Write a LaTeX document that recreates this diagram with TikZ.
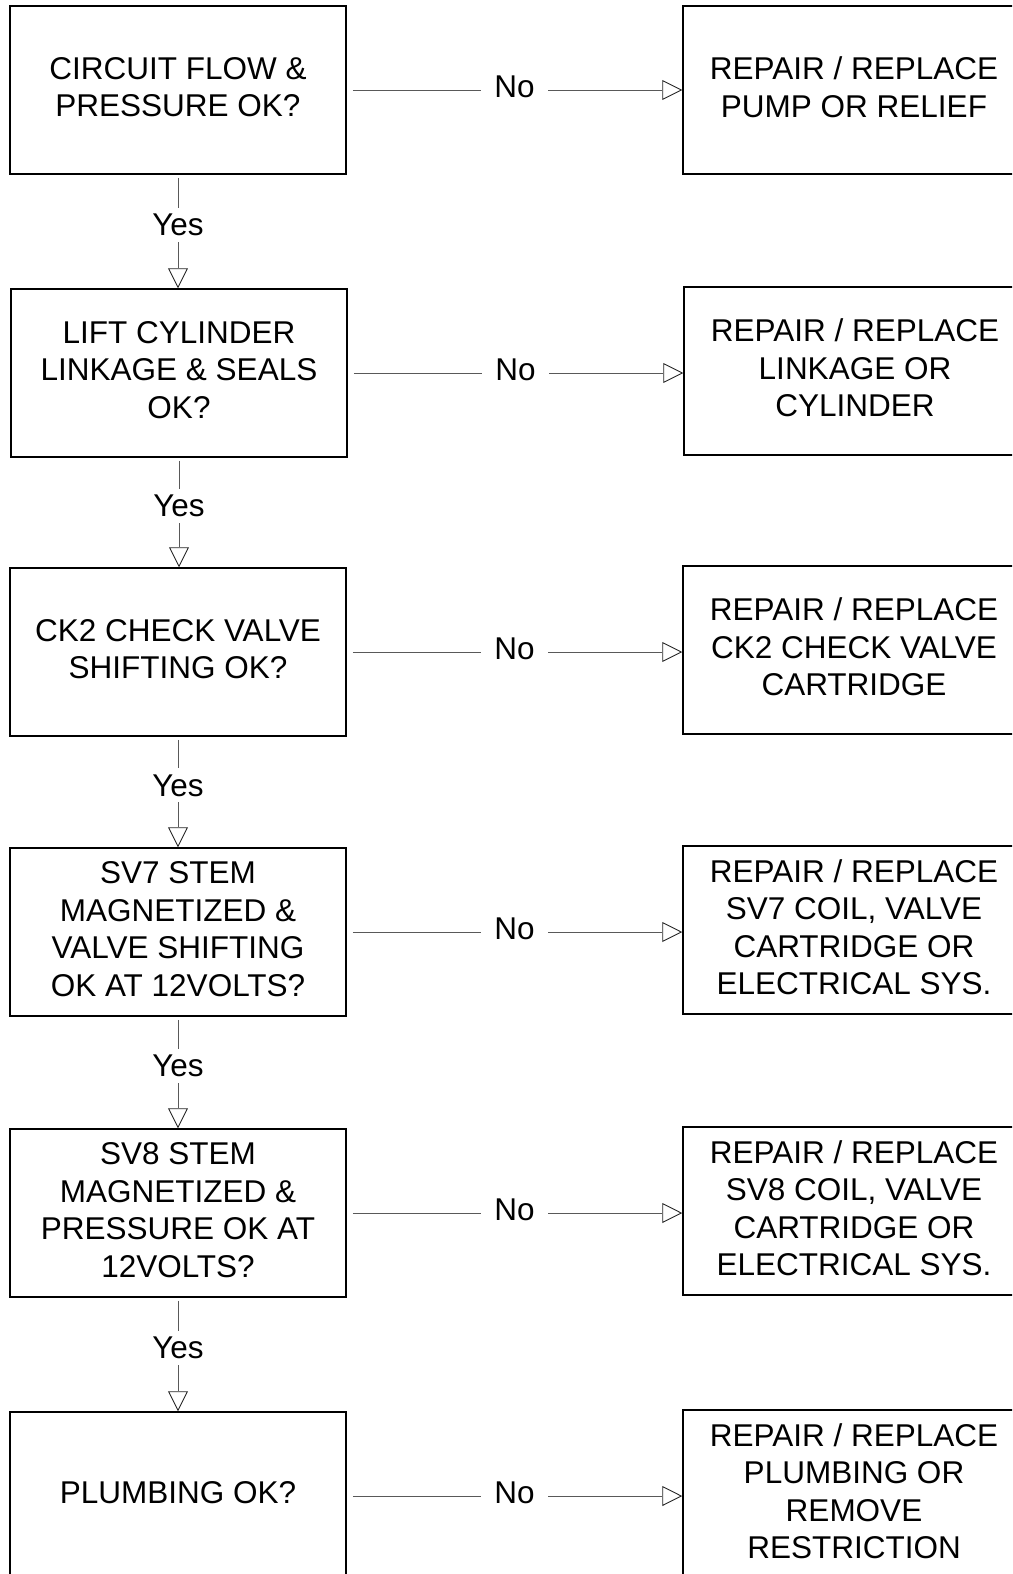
\documentclass[tikz,border=0pt]{standalone}
\usepackage{fontspec}
\setmainfont{Liberation Sans}
\usetikzlibrary{arrows.meta}
\begin{document}
\begin{tikzpicture}[x=1pt,y=-1pt,
  txt/.style={font=\fontsize{31.5}{37.5}\selectfont},
  box/.style={draw=black, line width=1.5pt, rectangle, inner sep=0pt,
    label={[txt, align=center, yshift=3pt]center:{#1}}},
  lbox/.style={box={#1}, minimum width=336pt, minimum height=168pt},
  rbox/.style={box={#1}, minimum width=342pt, minimum height=168pt},
  conn/.style={draw=black!65, line width=0.9pt, -{Triangle[open, length=20pt, width=20pt, line width=0.9pt, color=black!85]}},
  lbl/.style={txt, fill=white, text=black, inner xsep=13pt, inner ysep=6pt},
]
\useasboundingbox (0,0) rectangle (1012,1574);
\clip (0,0) rectangle (1012,1574);

\node[lbox={CIRCUIT FLOW \&\\PRESSURE OK?}] (q1) at (178,90) {};
\node[lbox={LIFT CYLINDER\\LINKAGE \& SEALS\\OK?}] (q2) at (179,373) {};
\node[lbox={CK2 CHECK VALVE\\SHIFTING OK?}] (q3) at (178,652) {};
\node[lbox={SV7 STEM\\MAGNETIZED \&\\VALVE SHIFTING\\OK AT 12VOLTS?}] (q4) at (178,932) {};
\node[lbox={SV8 STEM\\MAGNETIZED \&\\PRESSURE OK AT\\12VOLTS?}] (q5) at (178,1213) {};
\node[lbox={PLUMBING OK?}] (q6) at (178,1496) {};

\node[rbox={REPAIR / REPLACE\\PUMP OR RELIEF}] (r1) at (854,90) {};
\node[rbox={REPAIR / REPLACE\\LINKAGE OR\\CYLINDER}] (r2) at (855,371) {};
\node[rbox={REPAIR / REPLACE\\CK2 CHECK VALVE\\CARTRIDGE}] (r3) at (854,650) {};
\node[rbox={REPAIR / REPLACE\\SV7 COIL, VALVE\\CARTRIDGE OR\\ELECTRICAL SYS.}] (r4) at (854,930) {};
\node[rbox={REPAIR / REPLACE\\SV8 COIL, VALVE\\CARTRIDGE OR\\ELECTRICAL SYS.}] (r5) at (854,1211) {};
\node[rbox={REPAIR / REPLACE\\PLUMBING OR\\REMOVE\\RESTRICTION}] (r6) at (854,1494) {};

\foreach \i in {1,...,6}{
  \draw[conn, shorten <=6pt] (q\i.east) -- node[lbl, yshift=3pt] {No} (q\i.east -| r\i.west);
}
\foreach \i/\j in {1/2,2/3,3/4,4/5,5/6}{
  \draw[conn, shorten <=3pt] (q\i.south) -- node[lbl, pos=0.44, inner xsep=2pt] {Yes} (q\i.south |- q\j.north);
}
\end{tikzpicture}
\end{document}
